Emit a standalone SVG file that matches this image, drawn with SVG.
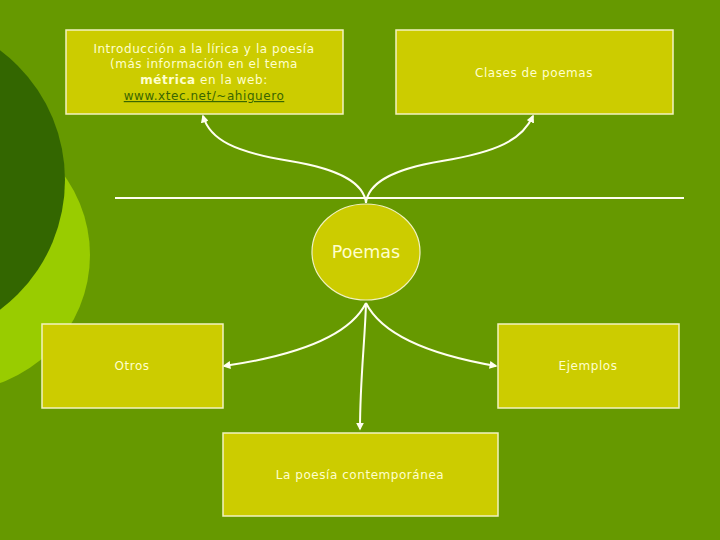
<svg xmlns="http://www.w3.org/2000/svg" width="720" height="540" viewBox="0 0 720 540">
<style>
.box{fill:#CCCC00;stroke:#F2F2C0;stroke-width:1.5}
.t{font-family:"DejaVu Sans",Verdana,sans-serif;font-size:12px;letter-spacing:0.55px;fill:#FFFFCC;text-anchor:middle}
.c{fill:none;stroke:#FFFFF0;stroke-width:2}
</style>
<defs>
<marker id="ah" viewBox="0 0 10 10" refX="8" refY="5" markerWidth="4" markerHeight="4" orient="auto">
<path d="M0,0 L10,5 L0,10 z" fill="#FFFFF0"/>
</marker>
</defs>
<rect width="720" height="540" fill="#669900"/>
<circle cx="-46" cy="255" r="136" fill="#99CC00"/>
<circle cx="-97" cy="180" r="162" fill="#336600"/>
<line x1="115" y1="198" x2="684" y2="198" stroke="#FFFFF0" stroke-width="2"/>
<g id="connectors">
<path class="c" marker-end="url(#ah)" d="M366,203 C364,185 345,170 290,161 C235,152 210,140 203,116"/>
<path class="c" marker-end="url(#ah)" d="M366,203 C368,185 387,170 442,161 C497,152 522,140 533,116"/>
<path class="c" marker-end="url(#ah)" d="M366,303 C350,335 300,355 224,366"/>
<path class="c" marker-end="url(#ah)" d="M366,303 C382,335 432,355 496,366"/>
<path class="c" marker-end="url(#ah)" d="M366,303 C365,340 360,380 360,429"/>
</g>
<g id="intro">
<rect class="box" x="66" y="30" width="277" height="84"/>
<text class="t" x="204" y="53">Introducción a la lírica y la poesía</text>
<text class="t" x="204" y="68">(más información en el tema</text>
<text class="t" x="204" y="84"><tspan font-weight="bold">métrica</tspan> en la web:</text>
<text class="t" x="204" y="100" style="fill:#3A6600" text-decoration="underline">www.xtec.net/~ahiguero</text>
</g>
<g id="clases">
<rect class="box" x="396" y="30" width="277" height="84"/>
<text class="t" x="534" y="77">Clases de poemas</text>
</g>
<g id="poemas">
<ellipse cx="366" cy="252" rx="54" ry="48" fill="#CCCC00" stroke="#F2F2C0" stroke-width="1.2"/>
<text class="t" x="366" y="258" style="font-size:17.5px;letter-spacing:0">Poemas</text>
</g>
<g id="otros">
<rect class="box" x="42" y="324" width="181" height="84"/>
<text class="t" x="132" y="370">Otros</text>
</g>
<g id="ejemplos">
<rect class="box" x="498" y="324" width="181" height="84"/>
<text class="t" x="588" y="370">Ejemplos</text>
</g>
<g id="contemporanea">
<rect class="box" x="223" y="433" width="275" height="83"/>
<text class="t" x="360" y="479">La poesía contemporánea</text>
</g>
</svg>
